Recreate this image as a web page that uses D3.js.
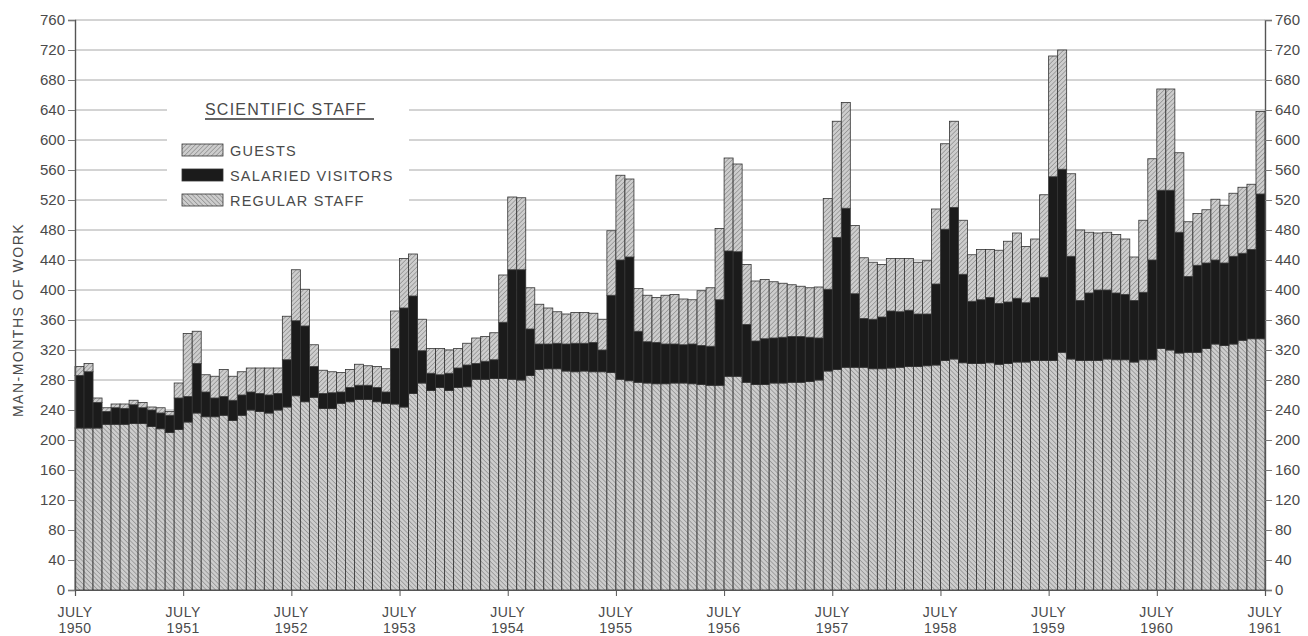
<!DOCTYPE html>
<html>
<head>
<meta charset="utf-8">
<script src="https://cdn.jsdelivr.net/npm/d3@7"></script>
<style>
  body { margin: 0; background: #fff; }
  text { font-family: "Liberation Sans", Arial, sans-serif; fill: #4a4a4a; }
</style>
</head>
<body>
<div class="chart"></div>
<script>
// Scientific staff, man-months of work per month, July 1950 - June 1961

// month index 0 = July 1950
let regularStaff = [
  216, 216, 216, 221, 221, 221, 222, 222, 218, 215, 210, 214,
  224, 236, 231, 231, 233, 226, 233, 240, 238, 236, 240, 244,
  259, 251, 257, 242, 242, 249, 251, 254, 254, 251, 249, 248,
  244, 262, 276, 266, 270, 266, 270, 271, 281, 281, 282, 282,
  281, 280, 286, 294, 295, 295, 292, 291, 292, 291, 291, 290,
  281, 279, 277, 276, 275, 275, 276, 276, 275, 274, 273, 273,
  285, 285, 277, 274, 274, 276, 276, 277, 277, 278, 280, 292,
  294, 297, 297, 297, 295, 295, 296, 297, 298, 298, 299, 300,
  306, 308, 303, 302, 302, 303, 301, 302, 304, 304, 306, 306,
  306, 317, 308, 306, 306, 306, 308, 307, 307, 304, 307, 307,
  322, 320, 316, 317, 317, 322, 328, 326, 328, 333, 335, 335
];

let salariedVisitors = [
  70, 75, 34, 17, 22, 21, 25, 21, 22, 21, 23, 42,
  34, 66, 33, 25, 25, 27, 27, 24, 24, 24, 22, 63,
  100, 101, 41, 20, 21, 15, 19, 19, 19, 19, 15, 74,
  132, 130, 43, 23, 17, 23, 26, 29, 21, 24, 25, 75,
  146, 147, 62, 34, 33, 34, 36, 38, 37, 39, 29, 103,
  159, 165, 68, 55, 55, 53, 52, 51, 53, 52, 52, 114,
  167, 166, 77, 58, 61, 60, 61, 61, 61, 59, 56, 109,
  176, 212, 98, 65, 66, 69, 76, 74, 75, 70, 69, 108,
  175, 202, 118, 83, 85, 87, 81, 82, 85, 79, 84, 111,
  245, 244, 137, 80, 90, 94, 92, 89, 87, 82, 90, 133,
  211, 213, 161, 101, 116, 114, 112, 110, 117, 116, 119, 193
];

let guests = [
  12, 11, 6, 5, 5, 6, 6, 7, 4, 7, 5, 20,
  84, 43, 23, 29, 36, 32, 31, 32, 34, 36, 34, 58,
  68, 49, 29, 31, 28, 26, 24, 28, 26, 28, 31, 50,
  66, 56, 42, 33, 35, 31, 26, 29, 34, 33, 36, 63,
  97, 96, 55, 53, 48, 42, 40, 41, 41, 39, 41, 86,
  113, 104, 57, 62, 60, 65, 66, 61, 59, 73, 78, 95,
  124, 117, 80, 80, 79, 75, 72, 69, 67, 66, 68, 121,
  155, 141, 91, 81, 76, 70, 70, 71, 69, 69, 71, 100,
  114, 115, 72, 62, 67, 64, 71, 81, 87, 75, 78, 110,
  161, 159, 110, 94, 81, 76, 77, 78, 74, 58, 96, 135,
  135, 135, 106, 73, 69, 71, 81, 77, 84, 88, 87, 110
];

let julyYears = ["1950", "1951", "1952", "1953", "1954", "1955", "1956", "1957", "1958", "1959", "1960", "1961"];
let yTicks = d3.range(0, 761, 40);

let legendItems = [
  { key: "guests", label: "GUESTS" },
  { key: "salaried", label: "SALARIED VISITORS" },
  { key: "regular", label: "REGULAR STAFF" }
];

let svgWidth = 1308;
let svgHeight = 636;
let margin = { top: 20, right: 43, bottom: 46, left: 75 };
let width = svgWidth - margin.left - margin.right;
let height = svgHeight - margin.top - margin.bottom;

let svg = d3.select(".chart").append("svg")
  .attr("width", svgWidth)
  .attr("height", svgHeight);

// hatch fills
let defs = svg.append("defs");
function hatch(id, angle) {
  let p = defs.append("pattern")
    .attr("id", id)
    .attr("width", 3.2)
    .attr("height", 3.2)
    .attr("patternUnits", "userSpaceOnUse")
    .attr("patternTransform", `rotate(${angle})`);
  p.append("rect").attr("width", 3.2).attr("height", 3.2).attr("fill", "#cdcdcd");
  p.append("line").attr("x1", 0).attr("y1", 0).attr("x2", 0).attr("y2", 3.2)
    .attr("stroke", "#7c7c7c").attr("stroke-width", 1.1);
}
hatch("hatchRegular", -45);
hatch("hatchGuests", 45);

let fills = {
  regular: "url(#hatchRegular)",
  salaried: "#1b1b1b",
  guests: "url(#hatchGuests)"
};

let chart = svg.append("g")
  .attr("transform", `translate(${margin.left}, ${margin.top})`);

let nMonths = regularStaff.length;
let x = d3.scaleLinear().domain([0, nMonths]).range([0, width]);
let y = d3.scaleLinear().domain([0, 760]).range([height, 0]);

// gridlines
chart.append("g")
  .selectAll("line")
  .data(yTicks.filter(d => d > 0))
  .enter()
  .append("line")
  .attr("x1", 0)
  .attr("x2", width)
  .attr("y1", d => y(d))
  .attr("y2", d => y(d))
  .attr("stroke", "#a8a8a8")
  .attr("stroke-width", 1);

// legend background breaks the gridlines
chart.append("rect")
  .attr("x", 92)
  .attr("y", 72)
  .attr("width", 242)
  .attr("height", 122)
  .attr("fill", "#fff");

// stack the three series
let rows = d3.range(nMonths).map(i => ({
  month: i,
  regular: regularStaff[i],
  salaried: salariedVisitors[i],
  guests: guests[i]
}));
let series = d3.stack().keys(["regular", "salaried", "guests"])(rows);

chart.append("g")
  .selectAll("g")
  .data(series)
  .enter()
  .append("g")
  .attr("fill", d => fills[d.key])
  .selectAll("rect")
  .data(d => d)
  .enter()
  .append("rect")
  .attr("x", d => x(d.data.month))
  .attr("width", d => x(d.data.month + 1) - x(d.data.month))
  .attr("y", d => y(d[1]))
  .attr("height", d => y(d[0]) - y(d[1]))
  .attr("stroke", "#333")
  .attr("stroke-width", 0.8);

// axes
let leftAxis = d3.axisLeft(y).tickValues(yTicks).tickSize(7).tickPadding(3);
let rightAxis = d3.axisRight(y).tickValues(yTicks).tickSize(7).tickPadding(3);

function styleAxis(g) {
  g.select(".domain").attr("stroke", "#555").attr("stroke-width", 1.4);
  g.selectAll(".tick line").attr("stroke", "#777");
  g.selectAll(".tick text")
    .style("font-family", "'Liberation Sans', Arial, sans-serif")
    .style("font-size", "15px")
    .attr("fill", "#4a4a4a");
}

chart.append("g").call(leftAxis).call(styleAxis);
chart.append("g").attr("transform", `translate(${width},0)`).call(rightAxis).call(styleAxis);

let bottomAxis = d3.axisBottom(x)
  .tickValues(d3.range(0, nMonths + 1, 12))
  .tickSize(6)
  .tickFormat("");
chart.append("g")
  .attr("transform", `translate(0,${height})`)
  .call(bottomAxis)
  .call(g => {
    g.select(".domain").attr("stroke", "#555").attr("stroke-width", 1.2);
    g.selectAll(".tick line").attr("stroke", "#555");
  });

// JULY / year labels
let xLabels = chart.append("g")
  .selectAll("text")
  .data(julyYears)
  .enter()
  .append("text")
  .attr("x", (d, i) => x(i * 12))
  .attr("y", height + 27)
  .attr("text-anchor", "middle")
  .style("font-size", "14px")
  .style("letter-spacing", "0.5px");
xLabels.append("tspan").attr("x", (d, i) => x(i * 12)).text("JULY");
xLabels.append("tspan").attr("x", (d, i) => x(i * 12)).attr("dy", 16).text(d => d);

// y title
svg.append("text")
  .attr("transform", `translate(23, ${margin.top + y(360)}) rotate(-90)`)
  .attr("text-anchor", "middle")
  .style("font-size", "14px")
  .style("letter-spacing", "1.5px")
  .text("MAN-MONTHS  OF  WORK");

// legend
let legend = chart.append("g").attr("transform", "translate(107, 0)");
legend.append("text")
  .attr("x", 23)
  .attr("y", 95)
  .style("font-size", "16px")
  .style("letter-spacing", "1.2px")
  .text("SCIENTIFIC STAFF");
legend.append("line")
  .attr("x1", 23).attr("x2", 192)
  .attr("y1", 99).attr("y2", 99)
  .attr("stroke", "#333").attr("stroke-width", 1.5);

let items = legend.selectAll(".item")
  .data(legendItems)
  .enter()
  .append("g")
  .attr("class", "item")
  .attr("transform", (d, i) => `translate(0, ${124 + i * 25})`);
items.append("rect")
  .attr("width", 41)
  .attr("height", 12)
  .attr("fill", d => fills[d.key])
  .attr("stroke", "#333")
  .attr("stroke-width", 0.8);
items.append("text")
  .attr("x", 48)
  .attr("y", 12)
  .style("font-size", "14.5px")
  .style("letter-spacing", "1.2px")
  .text(d => d.label);
</script>
</body>
</html>
